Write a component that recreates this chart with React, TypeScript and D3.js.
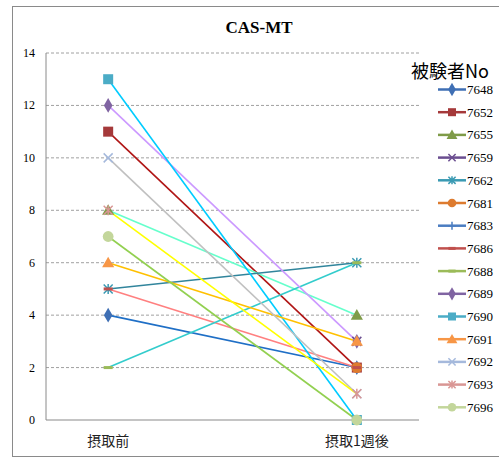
import React from "react";
import * as d3 from "d3";

const categories = ["摂取前", "摂取1週後"];
const subjects = ["7648", "7652", "7655", "7659", "7662", "7681", "7683", "7686", "7688", "7689", "7690", "7691", "7692", "7693", "7696"];
const before: (number | null)[] = [4, 11, 8, null, 5, null, null, 5, 2, 12, 13, 6, 10, 8, 7];
const after: (number | null)[] = [2, 2, 4, 3, 6, 2, null, 2, 6, 3, 0, 3, 1, 1, 0];
const markerShapes = ["diamond", "square", "triangle", "x", "asterisk", "circle", "plus", "dash", "dash", "diamond", "square", "triangle", "x", "asterisk", "circle"];
const markerColors = ["#3f6fb4", "#a5393a", "#7f9b48", "#6b4e90", "#3a9ab3", "#dd7b2f", "#4b7dc1", "#c0504d", "#9bbb59", "#8064a2", "#4bacc6", "#f79646", "#a5b9dc", "#d99694", "#c3d69b"];
const lineColors = ["#1f6fc6", "#b01515", "#66ffcc", "#8064a2", "#31859c", "#f79646", "#4b7dc1", "#ff8080", "#33cccc", "#cc99ff", "#00ccff", "#ffc000", "#c0c0c0", "#ffff00", "#92d050"];
const yTicks = [0, 2, 4, 6, 8, 10, 12, 14];

const W = 499, H = 459;
const plot = { left: 46, right: 419, top: 53, bottom: 420 };

function Marker({ shape, x, y, color, legend }: { shape: string; x: number; y: number; color: string; legend?: boolean }) {
  const s = legend ? 0.8 : 1;
  switch (shape) {
    case "diamond":
      return <path d={d3.symbol(d3.symbolDiamond, 64 * s)()!} transform={`translate(${x},${y})`} fill={color} />;
    case "square":
      return <rect x={x - 5 * s} y={y - 5 * s} width={10 * s} height={10 * s} fill={color} />;
    case "triangle":
      return <path d={d3.symbol(d3.symbolTriangle, 64 * s)()!} transform={`translate(${x},${y + 1})`} fill={color} />;
    case "circle":
      return <circle cx={x} cy={y} r={5.4 * s} fill={color} />;
    case "x":
      return <path d={`M${x - 4.5 * s},${y - 4.5 * s}L${x + 4.5 * s},${y + 4.5 * s}M${x - 4.5 * s},${y + 4.5 * s}L${x + 4.5 * s},${y - 4.5 * s}`} stroke={color} strokeWidth={1.5} />;
    case "asterisk":
      return <path d={`M${x - 4.5 * s},${y - 4.5 * s}L${x + 4.5 * s},${y + 4.5 * s}M${x - 4.5 * s},${y + 4.5 * s}L${x + 4.5 * s},${y - 4.5 * s}M${x},${y - 5 * s}L${x},${y + 5 * s}`} stroke={color} strokeWidth={1.5} />;
    case "plus":
      return <path d={`M${x - 5 * s},${y}L${x + 5 * s},${y}M${x},${y - 5 * s}L${x},${y + 5 * s}`} stroke={color} strokeWidth={1.5} />;
    case "dash":
      return <rect x={x - 4.5 * s} y={y - 1.5} width={9 * s} height={3} fill={color} />;
    default:
      return null;
  }
}

export default function App() {
  const x = d3.scalePoint<string>().domain(categories).range([plot.left, plot.right]).padding(0.25);
  const y = d3.scaleLinear().domain([0, 14]).range([plot.bottom, plot.top]);
  const line = d3.line<{ c: string; v: number | null }>()
    .defined((d) => d.v !== null)
    .x((d) => x(d.c)!)
    .y((d) => y(d.v as number));

  const series = subjects.map((name, i) => ({
    name,
    points: [{ c: categories[0], v: before[i] }, { c: categories[1], v: after[i] }],
    shape: markerShapes[i],
    mColor: markerColors[i],
    lColor: lineColors[i],
  }));

  const legendY0 = 89.5, legendStep = 22.7;

  return (
    <svg width={W} height={H} style={{ position: "absolute", left: 0, top: 0, background: "#fff" }}>
      <rect x={12.5} y={6.5} width={600} height={450} fill="#fff" stroke="#8a8a8a" strokeWidth={1} />
      <text x={259} y={33} textAnchor="middle" fontFamily="'Liberation Serif', 'DejaVu Serif', serif" fontWeight="bold" fontSize={17} fill="#000">CAS-MT</text>
      {yTicks.filter((t) => t > 0).map((t) => (
        <line key={t} x1={plot.left} x2={plot.right} y1={y(t)} y2={y(t)} stroke="#a0a0a0" strokeDasharray="3,2" strokeWidth={1} />
      ))}
      <line x1={plot.left} x2={plot.left} y1={y(14)} y2={y(0)} stroke="#8a8a8a" strokeWidth={1} />
      <line x1={plot.left} x2={plot.right} y1={y(0)} y2={y(0)} stroke="#8a8a8a" strokeWidth={1.2} />
      {yTicks.map((t) => (
        <text key={t} x={35} y={y(t) + 4} textAnchor="end" fontFamily="'Liberation Serif', 'DejaVu Serif', serif" fontSize={12} fill="#000">{t}</text>
      ))}
      {categories.map((c) => (
        <text key={c} x={x(c)!} y={446} textAnchor="middle" fontFamily="'Noto Sans CJK JP', sans-serif" fontSize={14} fill="#222">{c}</text>
      ))}
      {series.map((s) => (
        s.points.every((p) => p.v !== null) ? <path key={s.name} d={line(s.points)!} fill="none" stroke={s.lColor} strokeWidth={1.6} /> : null
      ))}
      {series.map((s) => (
        <g key={s.name}>
          {s.points.filter((p) => p.v !== null).map((p) => (
            <Marker key={p.c} shape={s.shape} x={x(p.c)!} y={y(p.v as number)} color={s.mColor} />
          ))}
        </g>
      ))}
      <text x={411} y={78} fontFamily="'Noto Sans CJK JP', sans-serif" fontSize={18} fill="#000">被験者No</text>
      {series.map((s, i) => {
        const ly = legendY0 + i * legendStep;
        return (
          <g key={s.name}>
            <line x1={438} x2={466} y1={ly} y2={ly} stroke={s.mColor} strokeWidth={2.5} />
            <Marker shape={s.shape} x={452} y={ly} color={s.mColor} legend />
            <text x={467} y={ly + 4.5} fontFamily="'Liberation Serif', 'DejaVu Serif', serif" fontSize={13} fill="#000">{s.name}</text>
          </g>
        );
      })}
    </svg>
  );
}
